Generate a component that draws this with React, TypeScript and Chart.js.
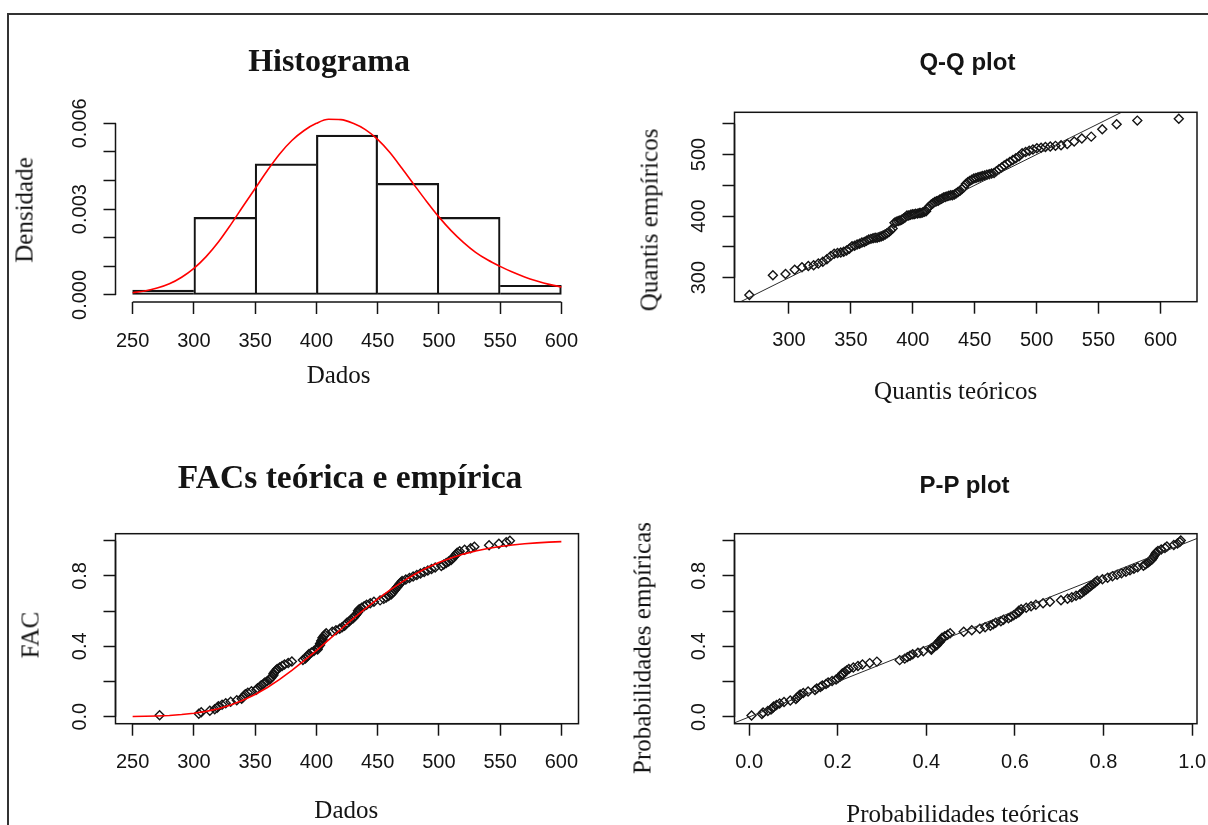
import React, { useEffect, useRef } from 'react';
import { Chart, registerables } from 'chart.js';

Chart.register(...registerables);

const PAGE_W = 1208;
const PAGE_H = 825;
const INK = '#141414';
const SERIF = '"Liberation Serif", "Times New Roman", serif';
const SANS = '"Liberation Sans", Arial, sans-serif';

// ---------------- data ----------------
// histogram of the sample (density scale)
const histBreaks = [250, 300, 350, 400, 450, 500, 550, 600];
const histDensity = [0.000169, 0.00271, 0.00458, 0.00559, 0.0039, 0.00271, 0.000339];

// fitted distribution evaluated on a grid
const fitGrid = [250, 260, 270, 280, 290, 300, 310, 320, 330, 340, 350, 360, 370, 380, 390, 400, 410, 420,
  430, 440, 450, 460, 470, 480, 490, 500, 510, 520, 530, 540, 550, 560, 570, 580, 590, 600];
const fitDensity = [0.00008, 0.00014, 0.00024, 0.00039, 0.00062, 0.00093, 0.00134, 0.00185, 0.00245, 0.00309,
  0.00372, 0.00435, 0.00493, 0.0054, 0.00575, 0.006, 0.00614, 0.00613, 0.006, 0.00578, 0.00544, 0.00498,
  0.00442, 0.00384, 0.00327, 0.00273, 0.00225, 0.00184, 0.00149, 0.00122, 0.001, 0.0008, 0.00063, 0.00049,
  0.00037, 0.00028];
const fitCdf = [0.001, 0.002, 0.004, 0.007, 0.012, 0.019, 0.03, 0.045, 0.066, 0.093, 0.126, 0.166, 0.212, 0.263,
  0.318, 0.376, 0.436, 0.497, 0.557, 0.614, 0.668, 0.719, 0.766, 0.808, 0.845, 0.876, 0.902, 0.924, 0.942,
  0.956, 0.967, 0.976, 0.983, 0.988, 0.992, 0.995];

// sorted observations
const sampleSorted = [272,
  304, 306, 313, 317, 319, 320, 323, 326, 330, 335,
  339, 340, 341, 342, 344, 347,
  351, 352, 354, 355, 357, 358, 360,
  362, 363, 364, 365, 365, 366,
  367, 368, 370, 372, 374, 377, 380,
  389, 391, 392, 393, 394, 396, 398,
  401, 401, 402, 403, 403, 404, 404, 405, 405, 406, 407, 408,
  413, 416, 419, 421, 423, 424, 425,
  427, 428, 430, 431, 432, 433, 434, 434, 435,
  437, 439, 441, 444, 447,
  452, 455, 457, 459,
  461, 462, 463, 464, 465, 466, 467, 468, 469, 470,
  473, 476, 479, 482, 485, 488,
  491, 494, 497,
  502, 504, 506, 508,
  510, 511, 512, 513, 514, 515,
  517, 521, 526, 529, 541, 549, 555, 558];

// theoretical quantiles matching each observation
const qqTheoretical = [
  268.0, 287.0, 297.2, 304.6, 310.5, 315.6, 319.9, 323.7, 327.3, 330.6,
  333.6, 336.5, 339.2, 341.8, 344.2, 346.5, 348.7, 350.9, 353.0, 355.0,
  357.0, 358.9, 360.8, 362.6, 364.4, 366.2, 367.9, 369.6, 371.2, 372.9,
  374.4, 376.0, 377.7, 379.2, 380.7, 382.2, 383.7, 385.2, 386.7, 388.2,
  389.6, 391.0, 392.5, 393.9, 395.3, 396.7, 398.2, 399.6, 401.0, 402.3,
  403.8, 405.2, 406.5, 407.9, 409.3, 410.7, 412.1, 413.5, 414.9,
  416.3, 417.7, 419.1, 420.5, 421.9, 423.3, 424.8, 426.2, 427.6, 429.1,
  430.6, 432.0, 433.6, 435.1, 436.5, 438.1, 439.7, 441.2, 442.8, 444.4,
  445.9, 447.6, 449.3, 451.0, 452.7, 454.4, 456.1, 458.0, 459.8, 461.7,
  463.6, 465.6, 467.5, 469.6, 471.7, 473.8, 476.0, 478.3, 480.8, 483.2,
  485.8, 488.3, 491.1, 494.0, 497.0, 500.2, 503.6, 507.1, 511.0, 515.2,
  519.7, 524.7, 530.3, 536.5, 544.1, 553.0, 564.6, 581.3, 614.8];

// theoretical probabilities of each observation
const ppTheoretical = [
  0.0054, 0.0289, 0.0315, 0.0422, 0.0494, 0.0533, 0.0554, 0.0618, 0.0688, 0.0788,
  0.0929, 0.1055, 0.1086, 0.112, 0.1153, 0.1222, 0.1331, 0.1487, 0.1527, 0.1609,
  0.1653, 0.1736, 0.1783, 0.1873, 0.1963, 0.2008, 0.2058, 0.2104, 0.2104, 0.2154,
  0.2201, 0.2251, 0.2352, 0.2457, 0.2559, 0.2722, 0.2884, 0.3398, 0.3512, 0.3572,
  0.3632, 0.3692, 0.381, 0.3932, 0.4114, 0.4114, 0.4176, 0.4235, 0.4235, 0.4298,
  0.4298, 0.4356, 0.4356, 0.4416, 0.4479, 0.4538, 0.4844, 0.5026, 0.5207, 0.5327,
  0.5446, 0.5509, 0.5565, 0.5683, 0.5742, 0.5855, 0.5913, 0.5972, 0.603, 0.6087,
  0.6087, 0.6141, 0.6255, 0.6365, 0.6473, 0.6635, 0.679, 0.704, 0.7187, 0.7284,
  0.7379, 0.747, 0.7514, 0.7562, 0.7605, 0.765, 0.7689, 0.7731, 0.7776, 0.7815,
  0.7859, 0.7976, 0.8092, 0.8202, 0.8307, 0.8406, 0.8506, 0.8597, 0.8686, 0.877,
  0.8901, 0.8951, 0.9, 0.9042, 0.9087, 0.911, 0.9131, 0.915, 0.9171, 0.9191,
  0.9229, 0.9302, 0.9386, 0.9431, 0.9586, 0.9668, 0.972, 0.9744];

// empirical cumulative probability of each sorted observation
const empiricalProb = sampleSorted.map((_, i) => (i + 1) / sampleSorted.length);

// ---------------- ticks ----------------
const dataTicks = [250, 300, 350, 400, 450, 500, 550, 600];
const dataTickLabels = ['250', '300', '350', '400', '450', '500', '550', '600'];
const densityTicks = [0, 0.001, 0.002, 0.003, 0.004, 0.005, 0.006];
const densityTickLabels = ['0.000', '', '', '0.003', '', '', '0.006'];
const qqXTicks = [300, 350, 400, 450, 500, 550, 600];
const qqXTickLabels = ['300', '350', '400', '450', '500', '550', '600'];
const qqYTicks = [300, 350, 400, 450, 500, 550];
const qqYTickLabels = ['300', '', '400', '', '500', ''];
const probTicks = [0, 0.2, 0.4, 0.6, 0.8, 1];
const probXTickLabels = ['0.0', '0.2', '0.4', '0.6', '0.8', '1.0'];
const probYTickLabels = ['0.0', '', '0.4', '', '0.8', ''];

// ---------------- layout ----------------
type Frame = { left: number; top: number; right: number; bottom: number };
const histFrame: Frame = { left: 115.5, top: 112, right: 578.5, bottom: 302 };
const qqFrame: Frame = { left: 734.5, top: 112.3, right: 1197, bottom: 301.7 };
const facFrame: Frame = { left: 115.5, top: 533.7, right: 578.5, bottom: 723.7 };
const ppFrame: Frame = { left: 734.5, top: 533.7, right: 1197, bottom: 723.7 };

const histXRange: [number, number] = [236, 614];
const histYRange: [number, number] = [-0.000246, 0.006396];
const qqXRange: [number, number] = [256, 629.5];
const qqYRange: [number, number] = [261, 568.5];
const facXRange: [number, number] = [236, 614];
const facYRange: [number, number] = [-0.04, 1.04];
const ppXRange: [number, number] = [-0.033, 1.011];
const ppYRange: [number, number] = [-0.038, 1.038];

const TICK_LEN = 12;
const Y_LABEL_GAP = 35.5; // axis line to centre of the rotated y tick labels
const X_LABEL_PAD = 15;
const Y_AXIS_BOX = 60; // room reserved for the y tick marks and labels
const X_AXIS_BOX = 60; // room reserved for the x tick marks and labels
const TICK_FONT = { family: SANS, size: 20 };
const LINE_W = 1.5;

function measureWidest(labels: string[]): number {
  const ctx = document.createElement('canvas').getContext('2d');
  if (!ctx) return 0;
  ctx.font = `20px ${SANS}`;
  return Math.max(...labels.map((l) => ctx.measureText(l).width));
}

function linearAxis(range: [number, number], ticks: number[], labels: string[], vertical: boolean): any {
  const padding = vertical ? Y_LABEL_GAP - TICK_LEN - measureWidest(labels) / 2 : X_LABEL_PAD;
  return {
    type: 'linear',
    min: range[0],
    max: range[1],
    offset: false,
    afterBuildTicks: (s: any) => {
      s.ticks = ticks.map((value) => ({ value }));
    },
    afterFit: (s: any) => {
      if (vertical) s.width = Y_AXIS_BOX;
      else s.height = X_AXIS_BOX;
      s.paddingLeft = 0;
      s.paddingRight = 0;
      s.paddingTop = 0;
      s.paddingBottom = 0;
    },
    ticks: {
      autoSkip: false,
      includeBounds: false,
      callback: (_v: any, i: number) => labels[i],
      font: TICK_FONT,
      color: INK,
      padding,
      minRotation: vertical ? 90 : 0,
      maxRotation: vertical ? 90 : 0,
      crossAlign: vertical ? 'center' : 'near',
    },
    grid: {
      display: true,
      offset: false,
      drawOnChartArea: false,
      drawTicks: true,
      tickLength: TICK_LEN,
      tickWidth: LINE_W,
      tickColor: INK,
    },
    border: { display: false },
  };
}

// axis lines spanning the tick range, plus the optional box round the plot region
const rFrame = {
  id: 'rFrame',
  afterDraw(chart: any, _args: any, opts: any) {
    const { ctx, chartArea: a, scales } = chart;
    const xs = scales.x;
    const ys = scales.y;
    ctx.save();
    ctx.strokeStyle = INK;
    ctx.lineWidth = LINE_W;
    if (opts.box) ctx.strokeRect(a.left, a.top, a.right - a.left, a.bottom - a.top);
    ctx.beginPath();
    ctx.moveTo(xs.getPixelForValue(xs.ticks[0].value), a.bottom);
    ctx.lineTo(xs.getPixelForValue(xs.ticks[xs.ticks.length - 1].value), a.bottom);
    ctx.moveTo(a.left, ys.getPixelForValue(ys.ticks[0].value));
    ctx.lineTo(a.left, ys.getPixelForValue(ys.ticks[ys.ticks.length - 1].value));
    ctx.stroke();
    ctx.restore();
  },
};

function baseOptions(frame: Frame, box: boolean, x: any, y: any): any {
  return {
    responsive: false,
    animation: false,
    devicePixelRatio: 1,
    events: [],
    layout: {
      padding: {
        left: frame.left - Y_AXIS_BOX,
        top: frame.top,
        right: PAGE_W - frame.right,
        bottom: PAGE_H - frame.bottom - X_AXIS_BOX,
      },
    },
    plugins: {
      legend: { display: false },
      tooltip: { enabled: false },
      title: { display: false },
      rFrame: { box },
    },
    scales: { x, y },
  };
}

const diamond = {
  pointStyle: 'rectRot',
  pointRadius: 4.5,
  pointBorderWidth: 1.4,
  pointBorderColor: INK,
  pointBackgroundColor: 'rgba(0,0,0,0)',
  borderColor: INK,
  backgroundColor: 'rgba(0,0,0,0)',
  showLine: false,
};

function histBorder(c: any) {
  const i = c.dataIndex;
  const h = histDensity;
  const left = i === 0 || h[i] >= h[i - 1] ? LINE_W : 0;
  const right = i === h.length - 1 || h[i] > h[i + 1] ? LINE_W : 0;
  return { top: LINE_W, bottom: LINE_W, left, right };
}

function makeHistogram(canvas: HTMLCanvasElement) {
  return new Chart(canvas, {
    type: 'bar',
    data: {
      datasets: [
        {
          type: 'line',
          data: fitGrid.map((x, i) => ({ x, y: fitDensity[i] })),
          borderColor: '#ff0000',
          borderWidth: 1.6,
          pointRadius: 0,
          cubicInterpolationMode: 'monotone',
          order: 0,
        },
        {
          type: 'bar',
          data: histDensity.map((d, i) => ({ x: (histBreaks[i] + histBreaks[i + 1]) / 2, y: d })),
          backgroundColor: 'rgba(0,0,0,0)',
          borderColor: INK,
          borderWidth: histBorder,
          borderSkipped: false,
          barPercentage: 1,
          categoryPercentage: 1,
          order: 1,
        },
      ],
    } as any,
    options: baseOptions(
      histFrame,
      false,
      linearAxis(histXRange, dataTicks, dataTickLabels, false),
      linearAxis(histYRange, densityTicks, densityTickLabels, true),
    ),
    plugins: [rFrame],
  });
}

function makeQQ(canvas: HTMLCanvasElement) {
  return new Chart(canvas, {
    type: 'scatter',
    data: {
      datasets: [
        {
          data: qqXRange.map((v) => ({ x: v, y: v })),
          showLine: true,
          borderColor: '#2a2a2a',
          borderWidth: 1,
          pointRadius: 0,
          clip: 0,
        },
        { data: qqTheoretical.map((x, i) => ({ x, y: sampleSorted[i] })), ...diamond },
      ],
    } as any,
    options: baseOptions(
      qqFrame,
      true,
      linearAxis(qqXRange, qqXTicks, qqXTickLabels, false),
      linearAxis(qqYRange, qqYTicks, qqYTickLabels, true),
    ),
    plugins: [rFrame],
  });
}

function makeFAC(canvas: HTMLCanvasElement) {
  return new Chart(canvas, {
    type: 'scatter',
    data: {
      datasets: [
        {
          data: fitGrid.map((x, i) => ({ x, y: fitCdf[i] })),
          showLine: true,
          borderColor: '#ff0000',
          borderWidth: 1.6,
          pointRadius: 0,
          tension: 0,
        },
        { data: sampleSorted.map((x, i) => ({ x, y: empiricalProb[i] })), ...diamond },
      ],
    } as any,
    options: baseOptions(
      facFrame,
      true,
      linearAxis(facXRange, dataTicks, dataTickLabels, false),
      linearAxis(facYRange, probTicks, probYTickLabels, true),
    ),
    plugins: [rFrame],
  });
}

function makePP(canvas: HTMLCanvasElement) {
  return new Chart(canvas, {
    type: 'scatter',
    data: {
      datasets: [
        {
          data: ppXRange.map((v) => ({ x: v, y: v })),
          showLine: true,
          borderColor: '#2a2a2a',
          borderWidth: 1,
          pointRadius: 0,
          clip: 0,
        },
        { data: ppTheoretical.map((x, i) => ({ x, y: empiricalProb[i] })), ...diamond },
      ],
    } as any,
    options: baseOptions(
      ppFrame,
      true,
      linearAxis(ppXRange, probTicks, probXTickLabels, false),
      linearAxis(ppYRange, probTicks, probYTickLabels, true),
    ),
    plugins: [rFrame],
  });
}

type TextItem = {
  text: string;
  cx: number;
  cy: number;
  size: number;
  family: string;
  weight?: number;
  rotate?: boolean;
};

const texts: TextItem[] = [
  { text: 'Histograma', cx: 329, cy: 59.9, size: 32, family: SERIF, weight: 700 },
  { text: 'Q-Q plot', cx: 967.4, cy: 62.4, size: 24, family: SANS, weight: 700 },
  { text: 'FACs teórica e empírica', cx: 350.1, cy: 476.6, size: 33.5, family: SERIF, weight: 700 },
  { text: 'P-P plot', cx: 964.5, cy: 485.4, size: 24, family: SANS, weight: 700 },
  { text: 'Dados', cx: 338.6, cy: 374.3, size: 25, family: SERIF },
  { text: 'Densidade', cx: 24.2, cy: 210, size: 25, family: SERIF, rotate: true },
  { text: 'Quantis teóricos', cx: 955.7, cy: 389.9, size: 25, family: SERIF },
  { text: 'Quantis empíricos', cx: 648.8, cy: 220, size: 25, family: SERIF, rotate: true },
  { text: 'Dados', cx: 346.3, cy: 808.6, size: 25, family: SERIF },
  { text: 'FAC', cx: 30, cy: 635.3, size: 25, family: SERIF, rotate: true },
  { text: 'Probabilidades teóricas', cx: 962.6, cy: 812.9, size: 25, family: SERIF },
  { text: 'Probabilidades empíricas', cx: 642.2, cy: 647.8, size: 25, family: SERIF, rotate: true },
];

function TextLabel({ item }: { item: TextItem }) {
  return (
    <div
      style={{
        position: 'absolute',
        left: item.cx,
        top: item.cy,
        transform: `translate(-50%, -50%)${item.rotate ? ' rotate(-90deg)' : ''}`,
        fontFamily: item.family,
        fontSize: item.size,
        fontWeight: item.weight ?? 400,
        lineHeight: `${item.size}px`,
        whiteSpace: 'nowrap',
        color: INK,
      }}
    >
      {item.text}
    </div>
  );
}

export default function App() {
  const histRef = useRef<HTMLCanvasElement>(null);
  const qqRef = useRef<HTMLCanvasElement>(null);
  const facRef = useRef<HTMLCanvasElement>(null);
  const ppRef = useRef<HTMLCanvasElement>(null);

  useEffect(() => {
    const charts: Chart[] = [];
    if (histRef.current) charts.push(makeHistogram(histRef.current));
    if (qqRef.current) charts.push(makeQQ(qqRef.current));
    if (facRef.current) charts.push(makeFAC(facRef.current));
    if (ppRef.current) charts.push(makePP(ppRef.current));
    return () => charts.forEach((c) => c.destroy());
  }, []);

  const canvasStyle: React.CSSProperties = { position: 'absolute', left: 0, top: 0 };

  return (
    <div
      style={{
        position: 'fixed',
        left: 0,
        top: 0,
        width: PAGE_W,
        height: PAGE_H,
        overflow: 'hidden',
        background: '#ffffff',
      }}
    >
      <div
        style={{
          position: 'absolute',
          left: 7,
          top: 13,
          width: PAGE_W + 40,
          height: PAGE_H + 40,
          borderTop: '2px solid #333',
          borderLeft: '2px solid #333',
        }}
      />
      <canvas ref={histRef} width={PAGE_W} height={PAGE_H} style={canvasStyle} />
      <canvas ref={qqRef} width={PAGE_W} height={PAGE_H} style={canvasStyle} />
      <canvas ref={facRef} width={PAGE_W} height={PAGE_H} style={canvasStyle} />
      <canvas ref={ppRef} width={PAGE_W} height={PAGE_H} style={canvasStyle} />
      {texts.map((t, i) => (
        <TextLabel key={i} item={t} />
      ))}
    </div>
  );
}
